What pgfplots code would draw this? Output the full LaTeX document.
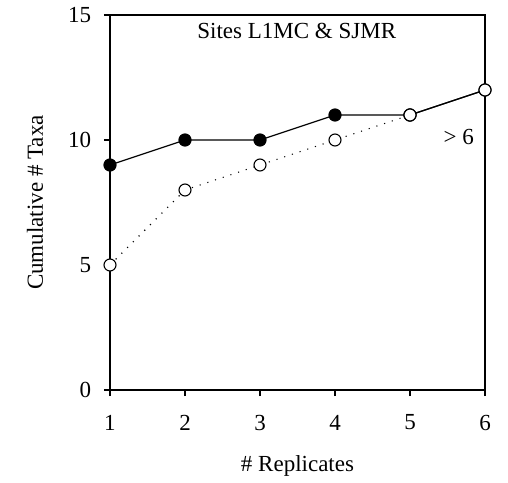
\documentclass[border=0pt]{standalone}
\usepackage{fontspec}
\setmainfont{Liberation Serif}
\usepackage{pgfplots}
\pgfplotsset{compat=1.18}
\begin{document}
\fontsize{23}{27}\selectfont
\begin{tikzpicture}[x=1pt,y=1pt]
\useasboundingbox (-110,-92) rectangle (398,390);
\begin{axis}[
  scale only axis, width=375pt, height=375pt,
  xmin=1, xmax=6, ymin=0, ymax=15,
  xtick={1,2,3,4,5,6}, ytick={0,5,10,15},
  tick align=outside, major tick length=6pt,
  xtick pos=bottom, ytick pos=left,
  axis line style={line width=1.1pt},
  tick style={line width=1.1pt, black},
  /pgf/number format/assume math mode=true,
  ticklabel style={font=\fontsize{23}{27}\selectfont},
  label style={font=\fontsize{23}{27}\selectfont},
  xticklabel style={yshift=-11pt},
  yticklabel style={xshift=-5pt},
  xlabel={\# Replicates},
  ylabel={Cumulative \# Taxa},
  xlabel style={at={(axis description cs:0.5,-0.203)}, anchor=center},
  ylabel style={at={(axis description cs:-0.2,0.5)}, anchor=center},
  clip=false,
]
\addplot[black, line width=1.2pt, mark=*, mark size=6pt, mark options={solid, fill=black}]
  coordinates {(1,9) (2,10) (3,10) (4,11) (5,11) (6,12)};
\addplot[black, line width=1.1pt, dash pattern=on 1.1pt off 7pt, mark=*, mark size=6pt, mark options={solid, fill=white, line width=1.1pt}]
  coordinates {(1,5) (2,8) (3,9) (4,10) (5,11)};
\addplot[black, line width=1.2pt, mark=*, mark size=6pt, mark options={solid, fill=white, line width=1.1pt}]
  coordinates {(5,11) (6,12)};
\node[anchor=center] at (axis cs:3.49,14.36) {Sites L1MC \& SJMR};
\node[anchor=center] at (axis cs:5.65,10.12) {> 6};
\end{axis}
\end{tikzpicture}
\end{document}
